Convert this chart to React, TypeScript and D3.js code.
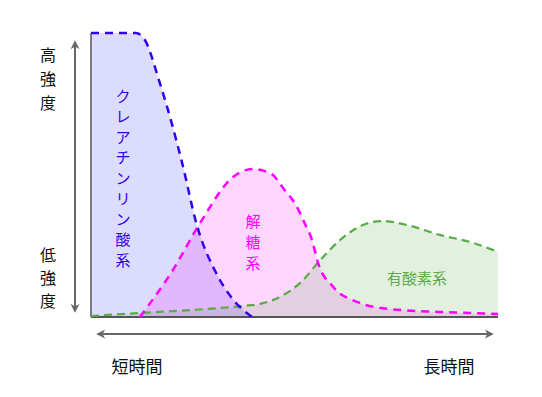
import React from "react";
import * as d3 from "d3";

// time (0-100) vs intensity (0-100)
const creatineX = [0, 11, 12.8, 17, 22.4, 26, 31, 35, 39.6];
const creatineY = [100, 100, 98.5, 82, 54.2, 32.4, 14.8, 6, 0];

const glycoX = [12, 20.1, 26.8, 34.9, 37, 39.8, 44.5, 47.2, 50.4, 52.5, 54.3, 55.8, 59.5, 65.4, 73.5, 85.7, 100];
const glycoY = [0, 16.5, 33.1, 49.3, 51.2, 52.1, 50.2, 45.4, 39.3, 33, 27.1, 19, 10.6, 5.3, 2.8, 1.8, 1.1];

const aerobicX = [0, 12, 25.1, 37.3, 41.5, 47.2, 51.4, 56.3, 61.2, 66.8, 71.7, 77.6, 85.7, 93.9, 100];
const aerobicY = [0.35, 1.4, 2.5, 3.9, 4.6, 7.7, 12, 20, 27.1, 32.4, 33.8, 32.4, 28.9, 26.1, 22.9];

const creatineLabel = ["ク", "レ", "ア", "チ", "ン", "リ", "ン", "酸", "系"];
const glycoLabel = ["解", "糖", "系"];
const aerobicLabel = "有酸素系";
const highLabel = ["高", "強", "度"];
const lowLabel = ["低", "強", "度"];
const shortLabel = "短時間";
const longLabel = "長時間";

const W = 542;
const H = 397;
const left = 91, right = 498, top = 33, bottom = 317;

export default function App() {
  const x = d3.scaleLinear().domain([0, 100]).range([left, right]);
  const y = d3.scaleLinear().domain([0, 100]).range([bottom, top]);

  const mk = (xs: number[], ys: number[]) => xs.map((v, i) => [v, ys[i]] as [number, number]);
  const line = d3.line<[number, number]>().x(d => x(d[0])).y(d => y(d[1])).curve(d3.curveMonotoneX);
  const area = d3.area<[number, number]>().x(d => x(d[0])).y0(y(0)).y1(d => y(d[1])).curve(d3.curveMonotoneX);

  const cre = mk(creatineX, creatineY);
  const gly = mk(glycoX, glycoY);
  const aer = mk(aerobicX, aerobicY);

  const blue = "#3300ee";
  const mag = "#ff00ff";
  const green = "#5aaa46";
  const font = "'Noto Sans CJK JP', sans-serif";

  return (
    <svg width={W} height={H} style={{ position: "absolute", left: 0, top: 0 }}>
      <defs>
        <marker id="ah" viewBox="0 0 10 10" refX="8" refY="5" markerWidth="9" markerHeight="9" orient="auto-start-reverse" markerUnits="userSpaceOnUse">
          <path d="M0,0 L10,5 L0,10 L3,5 Z" fill="#666" />
        </marker>
      </defs>
      <rect width={W} height={H} fill="#fff" />
      <path d={area(cre) || ""} fill="rgb(220,220,255)" />
      <path d={area(gly) || ""} fill="#ff00ff" fillOpacity={0.16} />
      <path d={area(aer) || ""} fill="#55aa44" fillOpacity={0.17} />
      <line x1={left} x2={left} y1={top} y2={bottom} stroke="#555" strokeWidth={1.5} />
      <line x1={left} x2={right} y1={bottom} y2={bottom} stroke="#555" strokeWidth={2} />
      <path d={line(aer) || ""} fill="none" stroke={green} strokeWidth={2.2} strokeDasharray="8,5" />
      <path d={line(gly) || ""} fill="none" stroke={mag} strokeWidth={2.5} strokeDasharray="8,6" />
      <path d={line(cre) || ""} fill="none" stroke={blue} strokeWidth={2.5} strokeDasharray="8,6" />

      <line x1={75} x2={75} y1={42} y2={311} stroke="#666" strokeWidth={2} markerStart="url(#ah)" markerEnd="url(#ah)" />
      <line x1={98} x2={492} y1={334} y2={334} stroke="#666" strokeWidth={2} markerStart="url(#ah)" markerEnd="url(#ah)" />

      <g fontFamily={font} textAnchor="middle" dominantBaseline="central">
        {creatineLabel.map((c, i) => (
          <text key={"c" + i} x={123} y={95 + i * 20.5} fontSize={15} fill={blue}>{c}</text>
        ))}
        {glycoLabel.map((c, i) => (
          <text key={"g" + i} x={253} y={220 + i * 21} fontSize={15} fill={mag}>{c}</text>
        ))}
        <text x={417} y={277} fontSize={15} fill={green}>{aerobicLabel}</text>
        {highLabel.map((c, i) => (
          <text key={"h" + i} x={48} y={54 + i * 24} fontSize={16} fill="#111">{c}</text>
        ))}
        {lowLabel.map((c, i) => (
          <text key={"l" + i} x={48} y={254 + i * 23} fontSize={16} fill="#111">{c}</text>
        ))}
        <text x={137} y={365} fontSize={17} fill="#111">{shortLabel}</text>
        <text x={449} y={365} fontSize={17} fill="#111">{longLabel}</text>
      </g>
    </svg>
  );
}
